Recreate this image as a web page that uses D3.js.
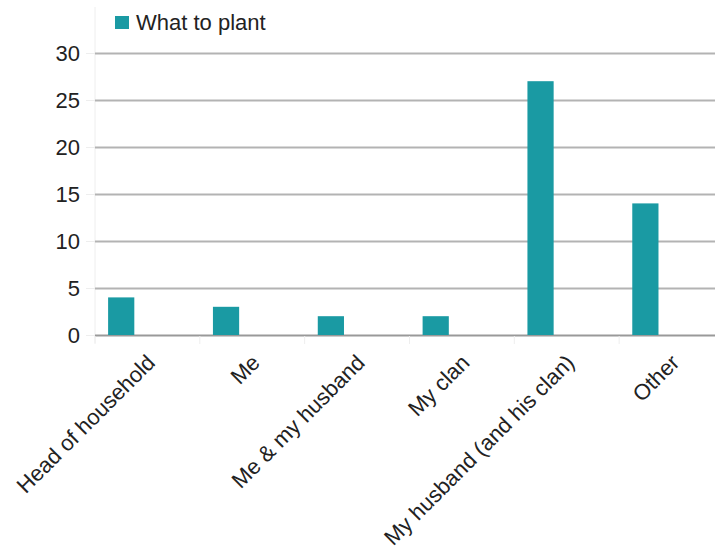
<!DOCTYPE html>
<html><head><meta charset="utf-8">
<script src="https://cdn.jsdelivr.net/npm/d3@7"></script>
<style>
html,body{margin:0;padding:0;background:#fff;}
text{font-family:"Liberation Sans",Arial,sans-serif;fill:#222;}
</style></head>
<body><svg id="c" width="715" height="554"></svg>
<script>
const categories = ["Head of household","Me","Me & my husband","My clan","My husband (and his clan)","Other"];
const seriesName = "What to plant";
const values = [4,3,2,2,27,14];
const yTicks = [0,5,10,15,20,25,30];

const W = 715, H = 554;
const svg = d3.select("#c");
const fs = 22;
const x0 = 95, x1 = 724, yTop = 53, yBot = 335;

const x = d3.scaleBand().domain(categories).range([x0, x1]).padding(0);
const slot = d3.scaleBand().domain([0,1,2]).range([0, x.bandwidth()]).paddingOuter(0.5).paddingInner(0);
const y = d3.scaleLinear().domain([0,30]).range([yBot, yTop]);

// faint y-axis line
svg.append("line").attr("x1",x0).attr("x2",x0).attr("y1",7).attr("y2",yBot+8)
  .attr("stroke","#eeeeee").attr("stroke-width",1);

// gridlines
const yAxis = d3.axisLeft(y).tickValues(yTicks).tickSize(9).tickPadding(6);
const gy = svg.append("g").attr("transform",`translate(${x0},0)`).call(yAxis);
gy.select(".domain").remove();
gy.selectAll(".tick line").attr("stroke","#eeeeee");
gy.selectAll(".tick text").style("font-size",fs+"px").attr("fill","#222").attr("font-family","Liberation Sans, Arial, sans-serif");
gy.selectAll(".tick").append("line").attr("x1",0).attr("x2",W-x0+20)
  .attr("stroke",d=>d===0?"#999":"#b3b3b3").attr("stroke-width",2);

// x ticks (category boundaries)
svg.append("g").selectAll("line").data(categories).join("line")
  .attr("x1",d=>x(d)).attr("x2",d=>x(d)).attr("y1",yBot+1).attr("y2",yBot+9)
  .attr("stroke","#eeeeee").attr("stroke-width",1);

// bars
svg.append("g").selectAll("rect").data(values).join("rect")
  .attr("x",(d,i)=>x(categories[i])+slot(0))
  .attr("width",slot.bandwidth())
  .attr("y",d=>y(d))
  .attr("height",d=>y(0)-y(d))
  .attr("fill","#1a9aa3");

// x labels
svg.append("g").selectAll("text").data(categories).join("text")
  .attr("transform",d=>`translate(${x(d)+x.bandwidth()/2+9},${yBot+29}) rotate(-45)`)
  .attr("text-anchor","end")
  .style("font-size",fs+"px")
  .text(d=>d);

// legend
const lg = svg.append("g").attr("transform","translate(115,16)");
lg.append("rect").attr("width",14).attr("height",13).attr("fill","#1a9aa3");
lg.append("text").attr("x",21).attr("y",13.7).style("font-size",fs+"px").text(seriesName);
</script></body></html>
